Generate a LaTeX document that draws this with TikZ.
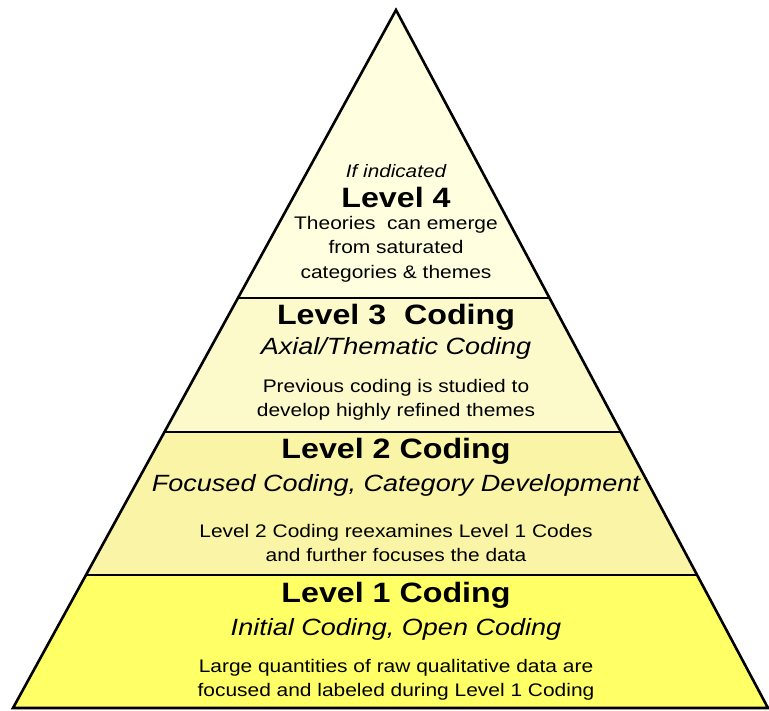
\documentclass[tikz,border=0pt]{standalone}
\usepackage{fontspec}
\setmainfont[FakeStretch=1.15]{Liberation Sans}
\usetikzlibrary{calc}
\definecolor{tierfour}{HTML}{FFFFE0}
\definecolor{tierthree}{HTML}{FCFACB}
\definecolor{tiertwo}{HTML}{FAF5A6}
\definecolor{tierone}{HTML}{FFFF66}
\begin{document}
\begin{tikzpicture}[x=1pt, y=-1pt,
    tier/.style={line width=2.6pt, line join=miter},
    head/.style={font=\fontsize{28}{32}\selectfont\bfseries},
    sub/.style={font=\fontsize{23.5}{26}\selectfont\itshape},
    body/.style={font=\fontsize{18.2}{24.5}\selectfont, align=center}
  ]
    \useasboundingbox (0,0) rectangle (769,711);
    \coordinate (apex) at (396,10);
    \coordinate (bl) at (13,708);
    \coordinate (br) at (768,708);

    % tier edges
    \foreach \t/\n in {0.4126/a, 0.6046/b, 0.8095/c} {
      \coordinate (l\n) at ($(apex)!\t!(bl)$);
      \coordinate (r\n) at ($(apex)!\t!(br)$);
    }

    \fill[tierfour]  (apex) -- (ra) -- (la) -- cycle;
    \fill[tierthree] (la) -- (ra) -- (rb) -- (lb) -- cycle;
    \fill[tiertwo]   (lb) -- (rb) -- (rc) -- (lc) -- cycle;
    \fill[tierone]   (lc) -- (rc) -- (br) -- (bl) -- cycle;
    \draw[tier] (la) -- (ra) (lb) -- (rb) (lc) -- (rc);
    \draw[tier] (apex) -- (br) -- (bl) -- cycle;

    % level 4
    \node[font=\fontsize{18}{20}\selectfont\itshape] (ifind) at (396,171) {If indicated};
    \node[head] (lvfour) at (396,197) {Level 4};
    \node[body] (theories) at (396,249) {Theories\ \ can emerge\\from saturated\\categories \& themes};

    % level 3
    \node[head] (lvthree) at (396,317) {Level 3\ \ Coding};
    \node[sub] (axial) at (396,348) {Axial/Thematic Coding};
    \node[body] (previous) at (396,400) {Previous coding is studied to\\develop highly refined themes};

    % level 2
    \node[head] (lvtwo) at (396,451) {Level 2 Coding};
    \node[sub] (focused) at (396,485) {Focused Coding, Category Development};
    \node[body] (reexam) at (396,543) {Level 2 Coding reexamines Level 1 Codes\\and further focuses the data};

    % level 1
    \node[head] (lvone) at (396,595) {Level 1 Coding};
    \node[sub] (initial) at (396,629) {Initial Coding, Open Coding};
    \node[body] (large) at (396,680) {Large quantities of raw qualitative data are\\focused and labeled during Level 1 Coding};
\end{tikzpicture}
\end{document}
